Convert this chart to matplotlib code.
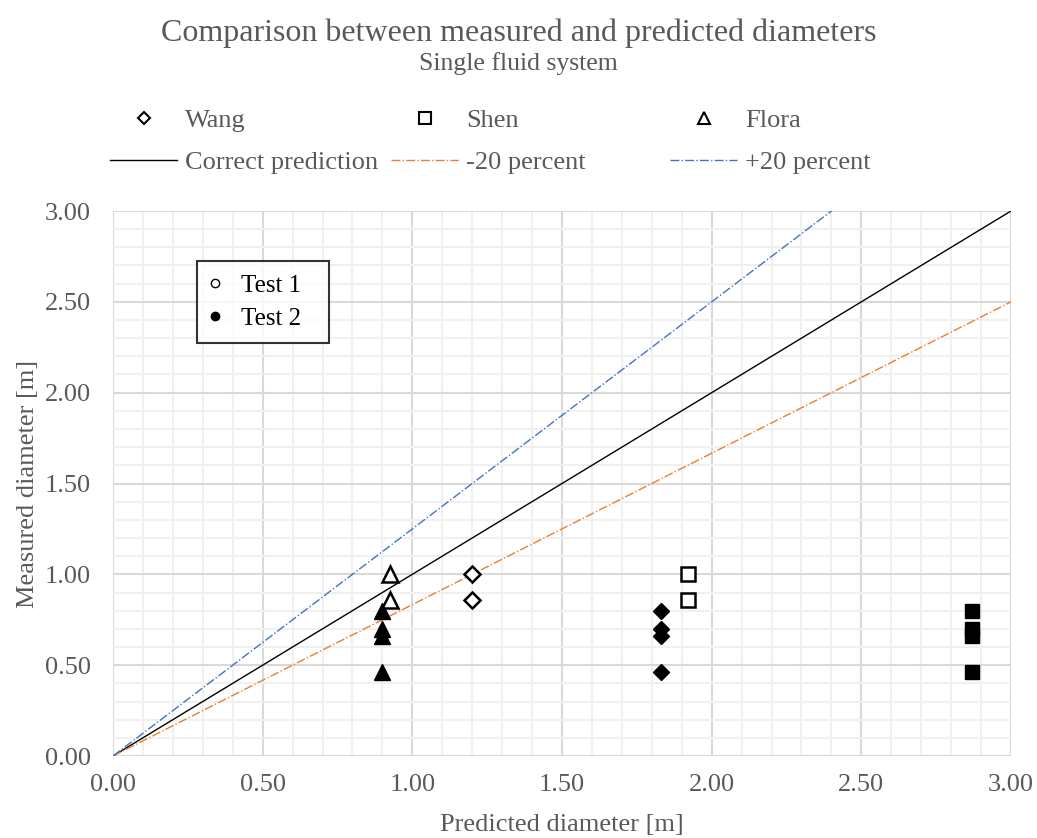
import numpy as np
import matplotlib.pyplot as plt
from matplotlib.lines import Line2D
from matplotlib.ticker import MultipleLocator, FormatStrFormatter

plt.rcParams['font.family'] = ['Liberation Serif', 'DejaVu Serif']

# measured diameters [m]
meas_t1 = [1.00, 0.86]
meas_t2 = [0.80, 0.70, 0.66, 0.46]

# predicted diameters [m] per model
wang_t1, wang_t2 = 1.20, 1.83
shen_t1, shen_t2 = 1.92, 2.87
flora_t1, flora_t2 = 0.925, 0.90

ref_x = [0.0, 3.0]
GREY = '#595959'

fig = plt.figure(figsize=(10.37, 8.38), dpi=100)
ax = fig.add_axes([113/1037, 1 - 756/838, 898/1037, 545/838])

# reference lines
x = np.array(ref_x)
ax.plot(x, x, color='black', lw=1.0, label='Correct prediction', zorder=3)
ax.plot(x, x / 1.2, color='#ED7D31', lw=1.0, ls='-.', label='-20 percent', zorder=3)
ax.plot(x, x / 0.8, color='#4472C4', lw=1.0, ls='-.', label='+20 percent', zorder=3)

# data: open = test 1, filled = test 2
mk = dict(ls='none', color='black', zorder=4)
ax.plot([wang_t1] * len(meas_t1), meas_t1, marker='D', ms=8, mfc='white', mew=1.8, **mk)
ax.plot([wang_t2] * len(meas_t2), meas_t2, marker='D', ms=8, mfc='black', mew=1.0, **mk)
ax.plot([shen_t1] * len(meas_t1), meas_t1, marker='s', ms=10, mfc='white', mew=1.8, **mk)
ax.plot([shen_t2] * len(meas_t2), meas_t2, marker='s', ms=10, mfc='black', mew=1.0, **mk)
ax.plot([flora_t1] * len(meas_t1), meas_t1, marker='^', ms=11, mfc='white', mew=1.8, **mk)
ax.plot([flora_t2] * len(meas_t2), meas_t2, marker='^', ms=11, mfc='black', mew=1.0, **mk)

ax.set_xlim(0, 3)
ax.set_ylim(0, 3)
ax.xaxis.set_major_locator(MultipleLocator(0.5))
ax.yaxis.set_major_locator(MultipleLocator(0.5))
ax.xaxis.set_minor_locator(MultipleLocator(0.1))
ax.yaxis.set_minor_locator(MultipleLocator(0.1))
ax.xaxis.set_major_formatter(FormatStrFormatter('%.2f'))
ax.yaxis.set_major_formatter(FormatStrFormatter('%.2f'))
ax.grid(which='major', color='#d9d9d9', lw=1.5, zorder=1)
ax.grid(which='minor', color='#f0f0f0', lw=1.5, zorder=0)
ax.set_axisbelow(True)
for s in ax.spines.values():
    s.set_visible(False)
ax.tick_params(which='both', length=0, labelsize=19, labelcolor=GREY)
ax.tick_params(axis='x', pad=13)
ax.tick_params(axis='y', pad=16)

ax.set_xlabel('Predicted diameter [m]', fontsize=19, color=GREY, labelpad=13)
ax.set_ylabel('Measured diameter [m]', fontsize=19, color=GREY, labelpad=4)

fig.text(0.5, 1 - 33/838, 'Comparison between measured and predicted diameters',
         ha='center', va='center', fontsize=23, color=GREY)
fig.text(0.5, 1 - 64/838, 'Single fluid system', ha='center', va='center',
         fontsize=18.5, color=GREY)

# top legend: three columns, two rows
cols = [
    [Line2D([], [], ls='none', marker='D', ms=6, mfc='white', mec='black', mew=1.5),
     Line2D([], [], color='black', lw=1.0)],
    [Line2D([], [], ls='none', marker='s', ms=8, mfc='white', mec='black', mew=1.5),
     Line2D([], [], color='#ED7D31', lw=1.0, ls='-.')],
    [Line2D([], [], ls='none', marker='^', ms=8, mfc='white', mec='black', mew=1.5),
     Line2D([], [], color='#4472C4', lw=1.0, ls='-.')],
]
col_labels = [['Wang', 'Correct prediction'], ['Shen', '-20 percent'], ['Flora', '+20 percent']]
col_x = [110, 391, 670]
for h, lab, cx in zip(cols, col_labels, col_x):
    leg = fig.legend(h, lab, loc='upper left', bbox_to_anchor=(cx / 1037, 1 - 109/838),
                     frameon=False, fontsize=19, handlelength=2.55, handletextpad=0.3,
                     labelspacing=0.7, borderpad=0, borderaxespad=0)
    for t in leg.get_texts():
        t.set_color(GREY)

# inner legend for tests
th = [Line2D([], [], ls='none', marker='o', ms=6, mfc='white', mec='black', mew=1.0),
      Line2D([], [], ls='none', marker='o', ms=6, mfc='black', mec='black')]
bx, btop, bw = (197 - 113) / 898, (756 - 261) / 545, 132 / 898
leg2 = ax.legend(th, ['Test 1', 'Test 2'], loc='upper left', mode='expand',
                 bbox_to_anchor=(bx, btop - 0.1, bw, 0.1),
                 fontsize=18, frameon=True, fancybox=False, edgecolor='black',
                 handlelength=0.3, handletextpad=0.9, labelspacing=0.4,
                 borderpad=0.55, borderaxespad=0)
leg2.get_frame().set_linewidth(1.5)
leg2.set_zorder(5)

fig.savefig('out.png', dpi=100)
